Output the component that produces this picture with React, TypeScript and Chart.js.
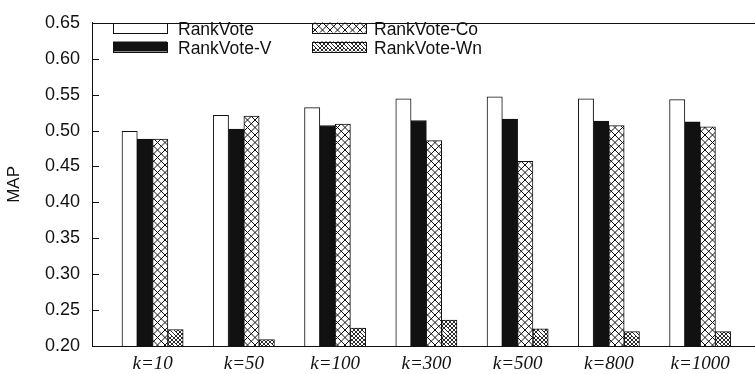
import React, { useEffect, useRef } from "react";
import { Chart, registerables } from "chart.js";

Chart.register(...registerables);

// ---- data ----
const categories = ["k=10", "k=50", "k=100", "k=300", "k=500", "k=800", "k=1000"];
const seriesNames = ["RankVote", "RankVote-V", "RankVote-Co", "RankVote-Wn"];
const rankVote = [0.499, 0.521, 0.532, 0.544, 0.547, 0.544, 0.543];
const rankVoteV = [0.488, 0.502, 0.507, 0.514, 0.516, 0.513, 0.512];
const rankVoteCo = [0.488, 0.52, 0.509, 0.486, 0.457, 0.507, 0.505];
const rankVoteWn = [0.223, 0.209, 0.225, 0.236, 0.224, 0.22, 0.22];
const yTickValues = [0.2, 0.25, 0.3, 0.35, 0.4, 0.45, 0.5, 0.55, 0.6, 0.65];
const yTitle = "MAP";

const SANS = "'Liberation Sans', Arial, Helvetica, sans-serif";
const SERIF = "'Liberation Serif', 'Times New Roman', serif";

// crosshatch tile: `n` diagonal periods inside a square tile of size `tile`
function makeCrossPattern(tile: number, n: number, lw: number): CanvasPattern | string {
  const c = document.createElement("canvas");
  c.width = tile;
  c.height = tile;
  const g = c.getContext("2d");
  if (!g) return "#fff";
  g.fillStyle = "#ffffff";
  g.fillRect(0, 0, tile, tile);
  g.strokeStyle = "#111111";
  g.lineWidth = lw;
  g.beginPath();
  const p = tile / n;
  for (let k = -n - 1; k <= n + 1; k++) {
    const o = k * p;
    // "\" direction lines: y = x - o
    g.moveTo(o - 2, -2);
    g.lineTo(o + tile + 2, tile + 2);
    // "/" direction lines: y = -x + o
    g.moveTo(o + 2, -2);
    g.lineTo(o - tile - 2, tile + 2);
  }
  g.stroke();
  const pat = g.createPattern(c, "repeat");
  return pat || "#fff";
}

const framePlugin = {
  id: "frameAndLegend",
  afterDraw(chart: any) {
    const { ctx, chartArea } = chart;
    const { left, right, top } = chartArea;
    ctx.save();
    // top frame line
    ctx.strokeStyle = "#111";
    ctx.lineWidth = 1;
    ctx.beginPath();
    const ty = Math.round(top) + 0.5;
    ctx.moveTo(left, ty);
    ctx.lineTo(right, ty);
    ctx.stroke();
    // inward y ticks
    const ys = chart.scales.y;
    ctx.beginPath();
    for (const t of ys.ticks) {
      const py = Math.round(ys.getPixelForValue(t.value)) + 0.5;
      ctx.moveTo(left, py);
      ctx.lineTo(left + 7, py);
    }
    ctx.stroke();

    // legend
    const ds = chart.data.datasets;
    const slots = [
      { sx: left + 21, sy: 22.5, tx: left + 86, by: 34.5 },
      { sx: left + 21, sy: 41.5, tx: left + 86, by: 53.5 },
      { sx: left + 220, sy: 22.5, tx: left + 282, by: 34.5 },
      { sx: left + 220, sy: 41.5, tx: left + 282, by: 53.5 },
    ];
    ctx.font = `17.5px ${SANS}`;
    ctx.textBaseline = "alphabetic";
    ctx.textAlign = "left";
    ds.forEach((d: any, i: number) => {
      const s = slots[i];
      ctx.fillStyle = d.backgroundColor;
      ctx.fillRect(s.sx, s.sy, 54, 10);
      ctx.strokeStyle = "#111";
      ctx.lineWidth = 1;
      ctx.strokeRect(Math.round(s.sx) + 0.5, Math.round(s.sy) + 0.5, 54, 10);
      ctx.fillStyle = "#111";
      ctx.fillText(d.label, s.tx, s.by);
    });
    ctx.restore();
  },
};

export default function App() {
  const ref = useRef<HTMLCanvasElement | null>(null);

  useEffect(() => {
    document.body.style.margin = "0";
    const canvas = ref.current;
    if (!canvas) return;
    const coPat = makeCrossPattern(15, 2, 1);
    const wnPat = makeCrossPattern(16, 4, 0.9);
    const series = [rankVote, rankVoteV, rankVoteCo, rankVoteWn];
    const fills: any[] = ["#ffffff", "#111111", coPat, wnPat];

    const chart = new Chart(canvas, {
      type: "bar",
      data: {
        datasets: series.map((vals, si) => ({
          label: seriesNames[si],
          data: vals.map((v, i) => ({ x: i, y: v })),
          backgroundColor: fills[si],
          borderColor: "#111111",
          borderWidth: 1,
          barThickness: 15.3,
        })),
      },
      options: {
        animation: false,
        responsive: false,
        devicePixelRatio: 1,
        layout: { padding: { top: 12, right: 0, left: 0, bottom: 0 } },
        plugins: {
          legend: { display: false },
          tooltip: { enabled: false },
        },
        scales: {
          x: {
            type: "linear",
            offset: false,
            min: -0.664,
            max: 6.601,
            grid: { display: false, drawTicks: false, offset: false },
            border: { display: true, color: "#111", width: 1 },
            afterBuildTicks: (scale: any) => {
              scale.ticks = categories.map((_, i) => ({ value: i }));
            },
            afterFit: (scale: any) => {
              scale.height = 28;
            },
            ticks: {
              autoSkip: false,
              maxRotation: 0,
              padding: 7,
              color: "#111",
              font: { family: SERIF, size: 19, style: "italic" },
              callback: (v: any) => categories[Math.round(Number(v))] ?? "",
            },
          },
          y: {
            type: "linear",
            min: 0.2,
            max: 0.65,
            grid: { display: false, drawTicks: false },
            border: { display: true, color: "#111", width: 1 },
            afterBuildTicks: (scale: any) => {
              scale.ticks = yTickValues.map((v) => ({ value: v }));
            },
            afterFit: (scale: any) => {
              scale.width = 92;
            },
            title: {
              display: true,
              text: yTitle,
              color: "#111",
              font: { family: SANS, size: 17 },
              padding: { top: 4, bottom: 0 },
            },
            ticks: {
              padding: 12,
              color: "#111",
              font: { family: SANS, size: 18 },
              callback: (v: any) => Number(v).toFixed(2),
            },
          },
        },
      },
      plugins: [framePlugin],
    } as any);

    return () => chart.destroy();
  }, []);

  return (
    <div style={{ width: 755, height: 374, background: "#fff" }}>
      <canvas ref={ref} width={755} height={374} style={{ display: "block" }} />
    </div>
  );
}
